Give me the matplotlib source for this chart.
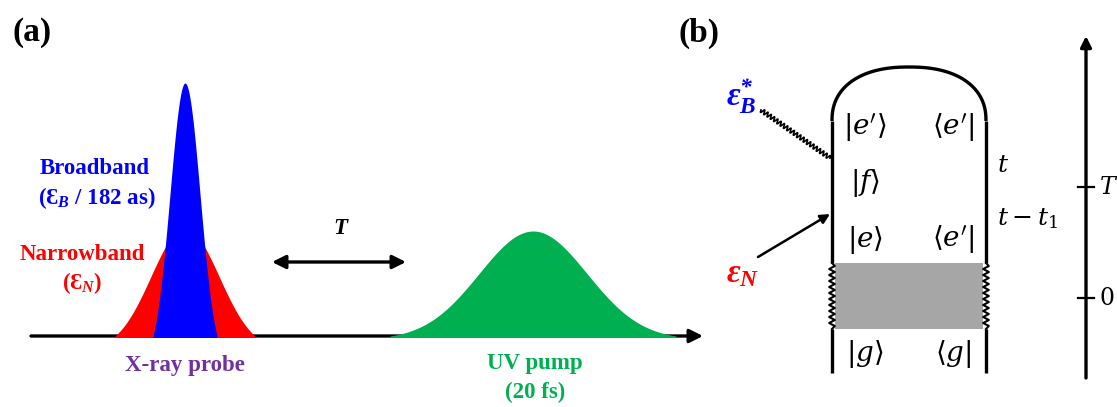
import numpy as np
import matplotlib
matplotlib.use("Agg")
import matplotlib.pyplot as plt
from matplotlib.patches import Rectangle

plt.rcParams["mathtext.fontset"] = "custom"
plt.rcParams["mathtext.rm"] = "Liberation Serif"
plt.rcParams["mathtext.it"] = "Liberation Serif:italic"
plt.rcParams["mathtext.bf"] = "Liberation Serif:italic:bold"

# ---- panel (a): pulse parameters (pixel units of the schematic) ----
pulse_names = ["Narrowband", "Broadband", "UV pump"]
pulse_centers = [185, 185, 533]
pulse_heights = [108, 253, 105]
pulse_sigmas = [34, 15, 54]
pulse_extents = [70, 32, 143]

# ---- panel (b): double-sided Feynman diagram ----
ket_labels = [r"$|e'\rangle$", r"$|f\rangle$", r"$|e\rangle$", r"$|g\rangle$"]
ket_rows = [128, 183, 240, 354]
bra_labels = [r"$\langle e'|$", r"$\langle e'|$", r"$\langle g|$"]
bra_rows = [128, 240, 354]
time_labels = [r"$t$", r"$t - t_1$"]
time_rows = [165, 219]
axis_tick_labels = [r"$0$", r"$T$"]
axis_tick_rows = [298, 187]

RED = "#FF0000"
BLUE = "#0000FF"
GREEN = "#00B050"
PURPLE = "#7030A0"
SERIF = ["Liberation Serif", "DejaVu Serif"]

fig = plt.figure(figsize=(11.17, 4.07), dpi=100)
ax = fig.add_axes([0, 0, 1, 1])
ax.set_xlim(0, 1117)
ax.set_ylim(407, 0)
ax.axis("off")

BASE = 336

# time axis of panel (a)
ax.annotate("", xy=(703, BASE), xytext=(31, BASE),
            arrowprops=dict(arrowstyle="-|>", lw=2.4, color="black",
                            mutation_scale=20, shrinkA=0, shrinkB=0), zorder=1)

# pulses: gaussian envelopes lowered so they meet the baseline at their extent
pulse_colors = [RED, BLUE, GREEN]
for c, h, s, e, col in zip(pulse_centers, pulse_heights, pulse_sigmas,
                           pulse_extents, pulse_colors):
    x = np.linspace(c - e, c + e, 400)
    g = np.exp(-((x - c) ** 2) / (2 * s ** 2))
    g0 = np.exp(-(e ** 2) / (2 * s ** 2))
    y = BASE - h * (g - g0) / (1 - g0)
    ax.fill_between(x, BASE + 1.5, y, color=col, lw=0, zorder=2)

# delay arrow
ax.annotate("", xy=(406, 262), xytext=(272, 262),
            arrowprops=dict(arrowstyle="<|-|>", lw=2.4, color="black",
                            mutation_scale=20, shrinkA=0, shrinkB=0))
ax.text(340, 228, "T", family=SERIF, weight="bold", style="italic",
        fontsize=16.5, ha="center", va="center")

lab = dict(family=SERIF, weight="bold", fontsize=16.5, ha="center", va="center")
ax.text(32, 33, "(a)", family=SERIF, weight="bold", fontsize=24,
        ha="center", va="center")
ax.text(95, 169, "Broadband", color=BLUE, **lab)
ax.text(97, 198, r"(Ɛ$_{\mathbf{B}}$ / 182 as)", color=BLUE, **lab)
ax.text(82, 254, "Narrowband", color=RED, **lab)
ax.text(82, 283, r"(Ɛ$_{\mathbf{N}}$)", color=RED, **lab)
ax.text(185, 365, "X-ray probe", color=PURPLE, **lab)
ax.text(535, 363, "UV pump", color=GREEN, **lab)
ax.text(535, 392, "(20 fs)", color=GREEN, **lab)

# ---- panel (b) ----
ax.text(699, 33, "(b)", family=SERIF, weight="bold", fontsize=24,
        ha="center", va="center")

XL, XR = 832, 986
DOME_Y = 121
BOX_TOP, BOX_BOT = 263, 329
BOTTOM = 373
LW = 2.4

# dome (superellipse)
th = np.linspace(0, np.pi, 200)
n = 2.3
a = (XR - XL) / 2
cx = (XL + XR) / 2
dx = cx + a * np.sign(np.cos(th)) * np.abs(np.cos(th)) ** (2 / n)
dy = DOME_Y - 54 * np.abs(np.sin(th)) ** (2 / n)
ax.plot(dx, dy, color="black", lw=LW, solid_capstyle="butt")

for xx in (XL, XR):
    ax.plot([xx, xx], [DOME_Y, BOX_TOP], color="black", lw=LW,
            solid_capstyle="butt")
    ax.plot([xx, xx], [BOX_BOT, BOTTOM], color="black", lw=LW,
            solid_capstyle="butt")
    zy = np.linspace(BOX_TOP, BOX_BOT, 23)
    zx = xx + 2.8 * np.where(np.arange(zy.size) % 2 == 0, -1, 1)
    zx[0] = zx[-1] = xx
    ax.plot(zx, zy, color="black", lw=1.5)

ax.add_patch(Rectangle((835, BOX_TOP), 148, BOX_BOT - BOX_TOP,
                       facecolor="#A6A6A6", edgecolor="none"))

ket_kw = dict(fontsize=20, ha="center", va="center",
              math_fontfamily="dejavuserif")
for lbl, yy in zip(ket_labels, ket_rows):
    ax.text(865, yy, lbl, **ket_kw)
for lbl, yy in zip(bra_labels, bra_rows):
    ax.text(953, yy, lbl, **ket_kw)
for lbl, yy in zip(time_labels, time_rows):
    ax.text(997, yy, lbl, fontsize=18, ha="left", va="center",
            math_fontfamily="dejavuserif")

# field labels
ax.text(726, 96, r"$\mathbf{\varepsilon}_{\mathbf{B}}^{\mathbf{*}}$",
        color=BLUE, fontsize=24, ha="left", va="center")
ax.text(726, 273, r"$\mathbf{\varepsilon}_{\mathbf{N}}$",
        color=RED, fontsize=24, ha="left", va="center")

# wavy photon line for the broadband emission
p0 = np.array([761.0, 110.0])
p1 = np.array([830.0, 158.0])
t = np.linspace(0, 1, 400)
d = p1 - p0
L = np.hypot(*d)
nrm = np.array([-d[1], d[0]]) / L
wig = 2.2 * np.sin(2 * np.pi * t * L / 4.0)
pts = p0[None, :] + t[:, None] * d[None, :] + wig[:, None] * nrm[None, :]
ax.plot(pts[:, 0], pts[:, 1], color="black", lw=1.2)

# narrowband arrow
ax.annotate("", xy=(830, 214), xytext=(758, 257),
            arrowprops=dict(arrowstyle="-|>", lw=1.8, color="black",
                            mutation_scale=14, shrinkA=0, shrinkB=0))

# vertical time axis
TX = 1086
ax.annotate("", xy=(TX, 36), xytext=(TX, 378),
            arrowprops=dict(arrowstyle="-|>", lw=2.4, color="black",
                            mutation_scale=16, shrinkA=0, shrinkB=0))
for lbl, yy in zip(axis_tick_labels, axis_tick_rows):
    ax.plot([TX - 8, TX + 8], [yy, yy], color="black", lw=1.6)
    ax.text(TX + 13, yy, lbl, fontsize=17, ha="left", va="center",
            math_fontfamily="dejavuserif")

fig.savefig("out.png", dpi=100)
